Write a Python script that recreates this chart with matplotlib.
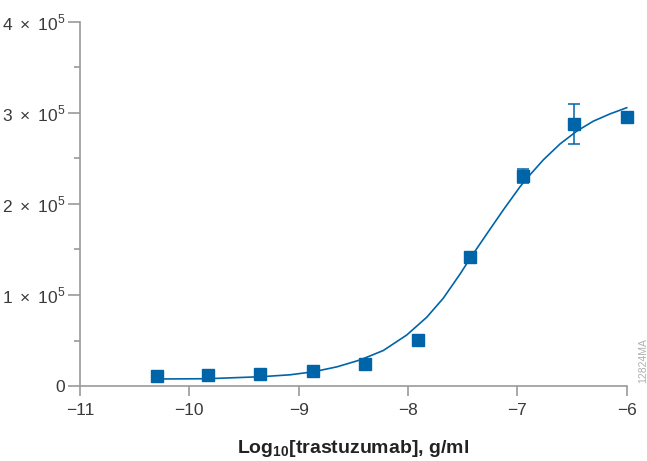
import matplotlib
matplotlib.use("Agg")
import matplotlib.pyplot as plt
from matplotlib.ticker import FixedLocator

FONT = "Liberation Sans"
plt.rcParams["font.family"] = [FONT, "DejaVu Sans"]
plt.rcParams["mathtext.fontset"] = "custom"
plt.rcParams["mathtext.rm"] = FONT
plt.rcParams["mathtext.bf"] = FONT + ":bold"
plt.rcParams["axes.unicode_minus"] = True

# measured points
log_conc = [-10.30, -9.83, -9.35, -8.87, -8.39, -7.91, -7.43, -6.95, -6.48, -6.00]
signal = [11.3e3, 12.4e3, 13.2e3, 16.5e3, 24.2e3, 50.5e3, 142e3, 230.8e3, 287.6e3, 296e3]
err = [0, 0, 0, 0, 0, 0, 0, 7.7e3, 22e3, 0]

# fitted curve
curve_x = [-10.296, -9.838, -9.344, -9.079, -8.866, -8.651, -8.438, -8.225, -8.011,
           -7.828, -7.676, -7.523, -7.432, -7.279, -7.127, -6.974, -6.913, -6.761,
           -6.608, -6.456, -6.304, -6.151, -5.998]
curve_y = [7.7e3, 8.0e3, 10.2e3, 12.3e3, 15.6e3, 21.0e3, 28.6e3, 39.0e3, 56.0e3,
           75.5e3, 96.5e3, 123.0e3, 140.0e3, 167.0e3, 193.5e3, 219.0e3, 228.0e3, 248.5e3,
           266.0e3, 280.0e3, 291.0e3, 299.0e3, 305.8e3]

x_ticks = [-11, -10, -9, -8, -7, -6]
x_labels = ["\u221211", "\u221210", "\u22129", "\u22128", "\u22127", "\u22126"]
y_ticks = [0, 1e5, 2e5, 3e5, 4e5]
y_labels = ["0", r"$1\;\times\;10^{5}$", r"$2\;\times\;10^{5}$", r"$3\;\times\;10^{5}$",
            r"$4\;\times\;10^{5}$"]
y_minor = [0.5e5, 1.5e5, 2.5e5, 3.5e5]

blue = "#0064a8"
gray = "#9a9a9a"
txt = "#3a3a3a"

fig = plt.figure(figsize=(6.47, 4.61), dpi=100)
ax = fig.add_axes([80 / 647, 75 / 461, 546.5 / 647, 364 / 461])

ax.plot(curve_x, curve_y, color=blue, lw=1.2, clip_on=False, zorder=2,
        solid_joinstyle="round")
ax.errorbar(log_conc, signal, yerr=err, fmt="s", color=blue, ms=8.6, mec=blue,
            ecolor=blue, elinewidth=1.1, capsize=4.5, capthick=1.1, clip_on=False, zorder=3)

ax.set_xlim(-11, -6)
ax.set_ylim(0, 4e5)
ax.xaxis.set_major_locator(FixedLocator(x_ticks))
ax.set_xticklabels(x_labels)
ax.yaxis.set_major_locator(FixedLocator(y_ticks))
ax.set_yticklabels(y_labels)
ax.yaxis.set_minor_locator(FixedLocator(y_minor))

for s in ["top", "right"]:
    ax.spines[s].set_visible(False)
for s in ["left", "bottom"]:
    ax.spines[s].set_color(gray)
    ax.spines[s].set_linewidth(1.2)

ax.tick_params(axis="x", which="major", length=7.5, width=1.2, color=gray, labelsize=12.5,
               labelcolor=txt, pad=5)
ax.tick_params(axis="y", which="major", length=8.5, width=1.2, color=gray, labelsize=12.5,
               labelcolor=txt, pad=2)
ax.tick_params(axis="y", which="minor", length=4.3, width=1.2, color=gray)

ax.set_xlabel(r"Log$_{\mathbf{10}}$[trastuzumab], g/ml", fontsize=14, fontweight="bold",
              color="#222222", labelpad=14)

fig.text(643 / 647, 1 - 361 / 461, "12824MA", rotation=90, fontsize=7.5, color="#b0b0b0",
         ha="center", va="center")

fig.savefig("out.png", dpi=100)
